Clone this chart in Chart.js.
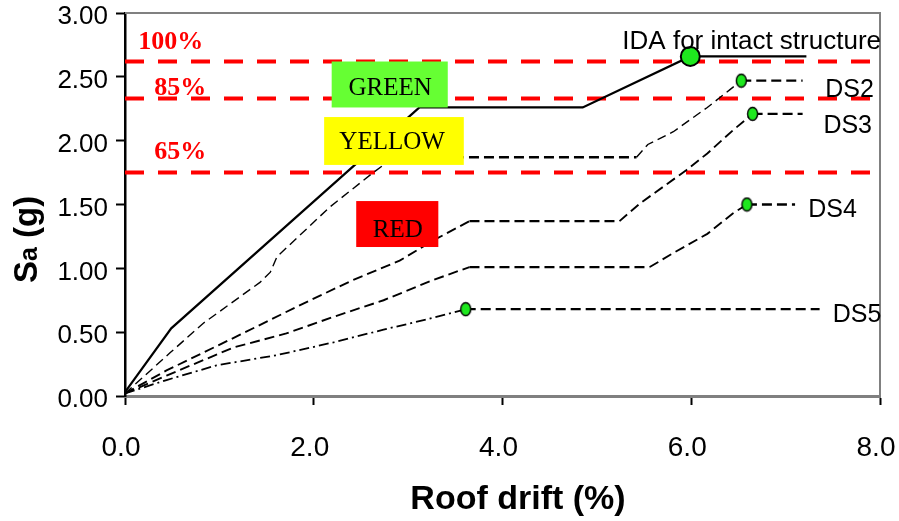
<!DOCTYPE html>
<html>
<head>
<meta charset="utf-8">
<script src="https://cdn.jsdelivr.net/npm/chart.js@4.4.1/dist/chart.umd.min.js"></script>
<style>
  html, body { margin: 0; padding: 0; background: #fff; }
  #wrap { width: 899px; height: 521px; position: relative; }
</style>
</head>
<body>
<div id="wrap"><canvas id="chartIda"></canvas></div>
<script>
// ── Values (roof drift %, Sa in g) ────────────────────────────────────

const xTicks = [0, 2, 4, 6, 8];
const yTicks = [0, 0.5, 1, 1.5, 2, 2.5, 3];

const idaDrift = [0, 0.49, 3.12, 4.85, 5.99, 7.22];
const idaSa = [0.03, 0.53, 2.26, 2.26, 2.66, 2.66];
const idaMark = 4;

const ds2Drift = [0, 0.48, 0.83, 1.43, 1.54, 1.61, 2.17, 2.63, 2.85, 5.42, 5.54, 5.81, 6.17, 6.41, 6.53, 7.18];
const ds2Sa = [0.02, 0.34, 0.57, 0.89, 0.97, 1.09, 1.48, 1.75, 1.87, 1.87, 1.97, 2.07, 2.26, 2.4, 2.47, 2.47];
const ds2Mark = 14;

const ds3Drift = [0, 0.44, 1.22, 1.85, 2.42, 2.91, 3.27, 3.65, 5.24, 5.46, 5.95, 6.17, 6.44, 6.65, 7.18];
const ds3Sa = [0.02, 0.2, 0.48, 0.71, 0.91, 1.06, 1.22, 1.37, 1.37, 1.51, 1.77, 1.9, 2.08, 2.21, 2.21];
const ds3Mark = 13;

const ds4Drift = [0, 0.44, 1.15, 1.71, 2.21, 2.74, 3.27, 3.65, 5.56, 5.81, 6.17, 6.44, 6.59, 7.1];
const ds4Sa = [0.02, 0.16, 0.38, 0.49, 0.62, 0.75, 0.91, 1.01, 1.01, 1.12, 1.27, 1.43, 1.5, 1.5];
const ds4Mark = 12;

const ds5Drift = [0, 0.44, 0.97, 1.61, 2.21, 2.74, 3.2, 3.61, 7.36];
const ds5Sa = [0.02, 0.125, 0.24, 0.32, 0.42, 0.52, 0.6, 0.68, 0.68];
const ds5Mark = 7;

const thresholdNames = ["100%", "85%", "65%"];
const thresholdSa = [2.62, 2.33, 1.75];

const stateNames = ["GREEN", "YELLOW", "RED"];
const seriesNames = ["IDA for intact structure", "DS2", "DS3", "DS4", "DS5"];

// ── helpers ───────────────────────

const SANS = "'Liberation Sans', Arial, sans-serif";
const SERIF = "'Liberation Serif', 'Times New Roman', serif";
const DOT_GREEN = "#1ee81e";

function pts(xs, ys) {
  return xs.map((x, i) => ({ x, y: ys[i] }));
}

// small upright ellipse used for the damage-state markers
function ellipseMarker() {
  const c = document.createElement("canvas");
  c.width = 13;
  c.height = 16;
  const g = c.getContext("2d");
  g.beginPath();
  g.ellipse(6.5, 8, 5, 6.5, 0, 0, Math.PI * 2);
  g.fillStyle = DOT_GREEN;
  g.fill();
  g.lineWidth = 1.4;
  g.strokeStyle = "#000";
  g.stroke();
  return c;
}
const smallDot = ellipseMarker();

const flat = (ctx) => ctx.p0.parsed.y === ctx.p1.parsed.y;

function damageCurve(label, xs, ys, mark, rise) {
  return {
    label,
    data: pts(xs, ys),
    borderColor: "#000",
    borderWidth: 1.5,
    fill: false,
    tension: 0,
    pointRadius: (c) => (c.dataIndex === mark ? 6 : 0),
    pointStyle: (c) => (c.dataIndex === mark ? smallDot : "circle"),
    segment: {
      borderDash: (c) => (flat(c) ? [10, 5] : rise.dash),
      borderWidth: (c) => (flat(c) ? 2.3 : rise.width),
    },
  };
}

function thresholdLine(v) {
  return {
    label: "thr",
    data: [{ x: 0, y: v }, { x: 8, y: v }],
    borderColor: "#ff0000",
    borderWidth: 4,
    borderDash: [19, 14],
    pointRadius: 0,
    fill: false,
  };
}

// ── annotations: frame, state boxes, labels, axis titles ───────────────

const annotations = {
  id: "annotations",
  afterDatasetsDraw(chart) {
    const { ctx, chartArea: a, scales } = chart;
    const px = (x) => scales.x.getPixelForValue(x);
    const py = (y) => scales.y.getPixelForValue(y);
    ctx.save();

    // grey top / right frame
    ctx.strokeStyle = "#808080";
    ctx.lineWidth = 2;
    ctx.beginPath();
    ctx.moveTo(a.left, a.top);
    ctx.lineTo(a.right, a.top);
    ctx.lineTo(a.right, a.bottom);
    ctx.stroke();

    // coloured state boxes
    const boxes = [
      { name: stateNames[0], color: "#66ff33", x0: 2.19, x1: 3.42, y0: 2.62, y1: 2.26, tx: 2.81, ty: 2.358 },
      { name: stateNames[1], color: "#ffff00", x0: 2.11, x1: 3.59, y0: 2.185, y1: 1.81, tx: 2.83, ty: 1.935 },
      { name: stateNames[2], color: "#ff0000", x0: 2.45, x1: 3.32, y0: 1.527, y1: 1.167, tx: 2.89, ty: 1.245 },
    ];
    ctx.font = "25px " + SERIF;
    ctx.textAlign = "center";
    ctx.textBaseline = "alphabetic";
    boxes.forEach((b) => {
      ctx.fillStyle = b.color;
      ctx.fillRect(px(b.x0), py(b.y0), px(b.x1) - px(b.x0), py(b.y1) - py(b.y0));
      ctx.fillStyle = "#000";
      ctx.fillText(b.name, px(b.tx), py(b.ty));
    });

    // threshold percentages
    ctx.font = "bold 26px " + SERIF;
    ctx.fillStyle = "#ff0000";
    ctx.textAlign = "left";
    const thrPos = [[0.14, 2.718], [0.31, 2.358], [0.31, 1.856]];
    thresholdNames.forEach((t, i) => ctx.fillText(t, px(thrPos[i][0]), py(thrPos[i][1])));

    // curve labels
    ctx.fillStyle = "#000";
    ctx.font = "26px " + SANS;
    ctx.fillText(seriesNames[0], px(5.27), py(2.718));
    ctx.font = "25px " + SANS;
    const lblPos = [[7.42, 2.342], [7.4, 2.06], [7.24, 1.402], [7.5, 0.58]];
    lblPos.forEach((p, i) => ctx.fillText(seriesNames[i + 1], px(p[0]), py(p[1])));

    // x title
    ctx.font = "bold 34px " + SANS;
    ctx.textAlign = "center";
    ctx.fillText("Roof drift (%)", 518, 509);

    // y title, S with a smaller "a"
    ctx.translate(37, 283);
    ctx.rotate(-Math.PI / 2);
    ctx.textAlign = "left";
    ctx.font = "bold 33px " + SANS;
    ctx.fillText("S", 0, 0);
    let w = ctx.measureText("S").width;
    ctx.font = "bold 25px " + SANS;
    ctx.fillText("a", w, 0);
    w += ctx.measureText("a").width;
    ctx.font = "bold 33px " + SANS;
    ctx.fillText(" (g)", w, 0);

    ctx.restore();
  },
};

// ── chart ───────────────────────

new Chart(document.getElementById("chartIda"), {
  type: "line",
  data: {
    datasets: [
      {
        label: seriesNames[0],
        data: pts(idaDrift, idaSa),
        borderColor: "#000",
        borderWidth: 2.2,
        fill: false,
        tension: 0,
        pointRadius: (c) => (c.dataIndex === idaMark ? 9.5 : 0),
        pointBackgroundColor: DOT_GREEN,
        pointBorderColor: "#000",
        pointBorderWidth: 2,
      },
      damageCurve(seriesNames[1], ds2Drift, ds2Sa, ds2Mark, { dash: [9, 5], width: 1.4 }),
      damageCurve(seriesNames[2], ds3Drift, ds3Sa, ds3Mark, { dash: [10, 5], width: 1.9 }),
      damageCurve(seriesNames[3], ds4Drift, ds4Sa, ds4Mark, { dash: [10, 5], width: 1.9 }),
      damageCurve(seriesNames[4], ds5Drift, ds5Sa, ds5Mark, { dash: [10, 4, 2, 4], width: 1.8 }),
      ...thresholdSa.map(thresholdLine),
    ],
  },
  options: {
    responsive: true,
    maintainAspectRatio: false,
    animation: false,
    layout: { padding: { left: 0, top: 13, right: 19, bottom: 0 } },
    plugins: {
      legend: { display: false },
      tooltip: { enabled: false },
    },
    scales: {
      x: {
        type: "linear",
        min: 0,
        max: 8,
        afterBuildTicks: (s) => {
          s.ticks = xTicks.map((v) => ({ value: v }));
        },
        afterFit: (s) => {
          s.height = 125;
          s.paddingLeft = 0;
          s.paddingRight = 0;
        },
        border: { color: "#808080", width: 3 },
        grid: { drawOnChartArea: false, tickLength: 9, tickColor: "#000", tickWidth: 2 },
        ticks: {
          color: "#000",
          font: { family: SANS, size: 28, lineHeight: 1 },
          padding: 29,
          labelOffset: -4,
          maxRotation: 0,
          callback: (v) => v.toFixed(1),
        },
      },
      y: {
        min: 0,
        max: 3,
        afterBuildTicks: (s) => {
          s.ticks = yTicks.map((v) => ({ value: v }));
        },
        afterFit: (s) => {
          s.width = 125;
          s.paddingTop = 0;
          s.paddingBottom = 0;
        },
        border: { color: "#000", width: 2.5 },
        grid: { drawOnChartArea: false, tickLength: 9, tickColor: "#000", tickWidth: 2 },
        ticks: {
          color: "#000",
          font: { family: SANS, size: 26, lineHeight: 1 },
          padding: 8,
          labelOffset: 4,
          callback: (v) => v.toFixed(2),
        },
      },
    },
  },
  plugins: [annotations],
});
</script>
</body>
</html>
